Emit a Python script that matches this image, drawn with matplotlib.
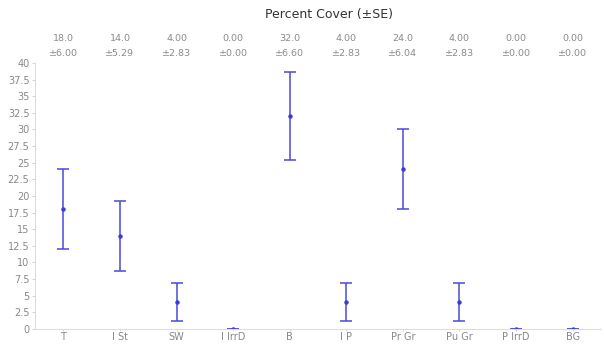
import numpy as np
import matplotlib.pyplot as plt

# カテゴリとデータ
categories = ["T", "I St", "SW", "I IrrD", "B", "I P", "Pr Gr", "Pu Gr", "P IrrD", "BG"]
mean_cover = [18.0, 14.0, 4.00, 0.00, 32.0, 4.00, 24.0, 4.00, 0.00, 0.00]
se_cover = [6.00, 5.29, 2.83, 0.00, 6.60, 2.83, 6.04, 2.83, 0.00, 0.00]
mean_labels = ["18.0", "14.0", "4.00", "0.00", "32.0", "4.00", "24.0", "4.00", "0.00", "0.00"]
se_labels = ["±6.00", "±5.29", "±2.83", "±0.00", "±6.60", "±2.83", "±6.04", "±2.83", "±0.00", "±0.00"]
y_ticks = np.arange(0, 40.1, 2.5)

fig = plt.figure(figsize=(6.04, 3.44), dpi=100)
ax = fig.add_axes([0.058, 0.044, 0.937, 0.773])

x = np.arange(len(categories))
ax.errorbar(x, mean_cover, yerr=se_cover, fmt="o", markersize=2.2,
            color="#3b3bd6", ecolor="#4a4ad8", elinewidth=1.1,
            capsize=4.5, capthick=1.1)

ax.set_xlim(-0.5, len(categories) - 0.5)
ax.set_ylim(0, 40)
ax.set_yticks(y_ticks)
ax.set_yticklabels([f"{v:g}" for v in y_ticks])
ax.set_xticks(x)
ax.set_xticklabels(categories)
ax.tick_params(axis="y", labelsize=7, colors="#cccccc", labelcolor="#888888",
               length=2.5, width=0.6, pad=1.5)
ax.tick_params(axis="x", labelsize=7, colors="#cccccc", labelcolor="#888888",
               length=1.5, width=0.6, pad=0.5)

for side in ["top", "right"]:
    ax.spines[side].set_visible(False)
ax.spines["left"].set_color("#dddddd")
ax.spines["bottom"].set_color("#dddddd")
ax.spines["left"].set_linewidth(0.8)
ax.spines["bottom"].set_linewidth(0.8)

# 平均値と標準誤差を上部に表示する
for i in range(len(categories)):
    ax.text(i, 1.093, mean_labels[i], transform=ax.get_xaxis_transform(),
            ha="center", va="center", fontsize=6.8, color="#8a8a8a")
    ax.text(i, 1.036, se_labels[i], transform=ax.get_xaxis_transform(),
            ha="center", va="center", fontsize=6.8, color="#8a8a8a")

fig.text(0.545, 0.958, "Percent Cover (±SE)", ha="center", va="center",
         fontsize=9, color="#333333")

plt.savefig("out.png", dpi=100)
